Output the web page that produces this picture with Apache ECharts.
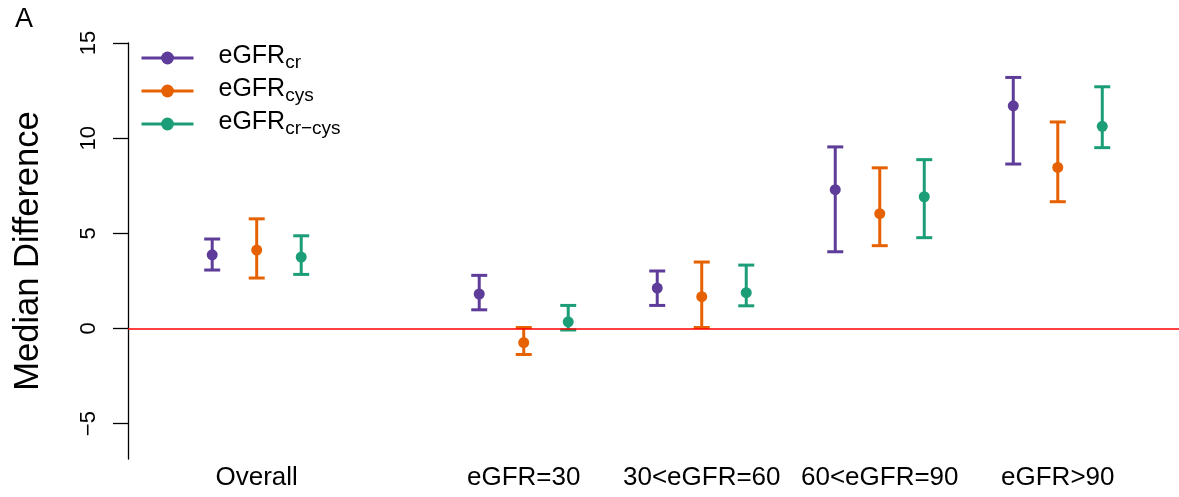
<!DOCTYPE html>
<html>
<head>
<meta charset="utf-8">
<script src="https://cdn.jsdelivr.net/npm/echarts@6/dist/echarts.min.js"></script>
<style>
  html, body { margin: 0; padding: 0; background: #fff; }
  #chart { width: 1179px; height: 497px; }
</style>
</head>
<body>
<div id="chart"></div>
<script>
// groups along the x axis (Overall sits a bit apart from the eGFR bands)
const categories = ['Overall', 'eGFR=30', '30<eGFR=60', '60<eGFR=90', 'eGFR>90'];
const groupPos = [1, 2.5, 3.5, 4.5, 5.5];
const yTicks = [-5, 0, 5, 10, 15];

const seriesNames = ['eGFRcr', 'eGFRcys', 'eGFRcr-cys'];
const seriesSubs = ['cr', 'cys', 'cr\u2212cys'];
const colors = ['#5e3c99', '#e66101', '#1b9e77'];

// median difference and its interval, one value per group
const crMed = [3.87, 1.81, 2.12, 7.29, 11.70];
const crLo  = [3.07, 0.98, 1.21, 4.03, 8.64];
const crHi  = [4.70, 2.79, 3.02, 9.54, 13.19];

const cysMed = [4.12, -0.74, 1.67, 6.03, 8.46];
const cysLo  = [2.65, -1.37, 0.05, 4.35, 6.66];
const cysHi  = [5.76, 0.05, 3.49, 8.44, 10.85];

const crcysMed = [3.75, 0.35, 1.88, 6.92, 10.62];
const crcysLo  = [2.84, -0.08, 1.19, 4.77, 9.50];
const crcysHi  = [4.87, 1.21, 3.33, 8.87, 12.70];

const meds = [crMed, cysMed, crcysMed];
const los = [crLo, cysLo, crcysLo];
const his = [crHi, cysHi, crcysHi];
const offsets = [-0.25, 0, 0.25];

const FONT = '"Liberation Sans", Arial, Helvetica, sans-serif';

const chart = echarts.init(document.getElementById('chart'));

const series = [];
seriesNames.forEach((name, i) => {
  series.push({
    name: name,
    type: 'line',
    data: groupPos.map((p, j) => [p + offsets[i], meds[i][j]]),
    symbol: 'circle',
    symbolSize: 11,
    itemStyle: { color: colors[i] },
    lineStyle: { width: 0, color: colors[i] },
    z: 5,
    markLine: i === 0 ? {
      silent: true,
      symbol: ['none', 'none'],
      label: { show: false },
      lineStyle: { color: '#ff0000', width: 1.5, type: 'solid' },
      data: [{ yAxis: 0 }]
    } : undefined
  });
});
seriesNames.forEach((name, i) => {
  series.push({
    name: name + ' interval',
    type: 'custom',
    data: groupPos.map((p, j) => [p + offsets[i], los[i][j], his[i][j]]),
    encode: { x: 0, y: [1, 2] },
    z: 3,
    renderItem: function (params, api) {
      const x = api.value(0);
      const top = api.coord([x, api.value(2)]);
      const bot = api.coord([x, api.value(1)]);
      const cw = 8;
      const style = { stroke: colors[i], lineWidth: 3 };
      return {
        type: 'group',
        children: [
          { type: 'line', shape: { x1: top[0], y1: top[1], x2: bot[0], y2: bot[1] }, style: style },
          { type: 'line', shape: { x1: top[0] - cw, y1: top[1], x2: top[0] + cw, y2: top[1] }, style: style },
          { type: 'line', shape: { x1: bot[0] - cw, y1: bot[1], x2: bot[0] + cw, y2: bot[1] }, style: style }
        ]
      };
    }
  });
});

const option = {
  animation: false,
  backgroundColor: '#fff',
  textStyle: { fontFamily: FONT },
  title: {
    text: 'A',
    left: 10,
    top: 1,
    textStyle: { fontSize: 27, fontWeight: 'normal', color: '#000', fontFamily: FONT }
  },
  legend: {
    orient: 'vertical',
    left: 135,
    top: 38,
    itemWidth: 52,
    itemHeight: 16,
    itemGap: 4,
    data: seriesNames,
    lineStyle: { width: 3 },
    formatter: function (name) {
      return '{b|eGFR}{s|' + seriesSubs[seriesNames.indexOf(name)] + '}';
    },
    textStyle: {
      padding: [0, 0, 0, 20],
      rich: {
        b: { fontSize: 25, lineHeight: 28, verticalAlign: 'top', color: '#000', fontFamily: FONT },
        s: { fontSize: 19, lineHeight: 20, verticalAlign: 'bottom', padding: [10, 0, 0, 0], color: '#000', fontFamily: FONT }
      }
    }
  },
  grid: { left: 128, right: 0, top: 43, height: 416 },
  xAxis: {
    type: 'value',
    min: 0.277,
    max: 6.181,
    axisLine: { show: false },
    axisTick: { show: false },
    splitLine: { show: false },
    axisLabel: {
      customValues: groupPos,
      margin: 6,
      fontSize: 26,
      color: '#000',
      fontFamily: FONT,
      formatter: function (v) {
        const k = groupPos.indexOf(v);
        return k >= 0 ? categories[k] : '';
      }
    }
  },
  yAxis: {
    type: 'value',
    min: -6.86,
    max: 15,
    name: 'Median Difference',
    nameLocation: 'middle',
    nameRotate: 90,
    nameGap: 82,
    nameTextStyle: { fontSize: 34.5, color: '#000', fontFamily: FONT },
    axisLine: { show: true, lineStyle: { color: '#000', width: 1.3 } },
    axisTick: { show: true, length: 15, customValues: yTicks, lineStyle: { color: '#000', width: 1.3 } },
    splitLine: { show: false },
    axisLabel: {
      customValues: yTicks,
      rotate: 90,
      margin: 28,
      fontSize: 22,
      color: '#000',
      fontFamily: FONT,
      formatter: function (v) { return v < 0 ? '\u2212' + Math.abs(v) : String(v); }
    }
  },
  series: series
};

chart.setOption(option);
</script>
</body>
</html>
